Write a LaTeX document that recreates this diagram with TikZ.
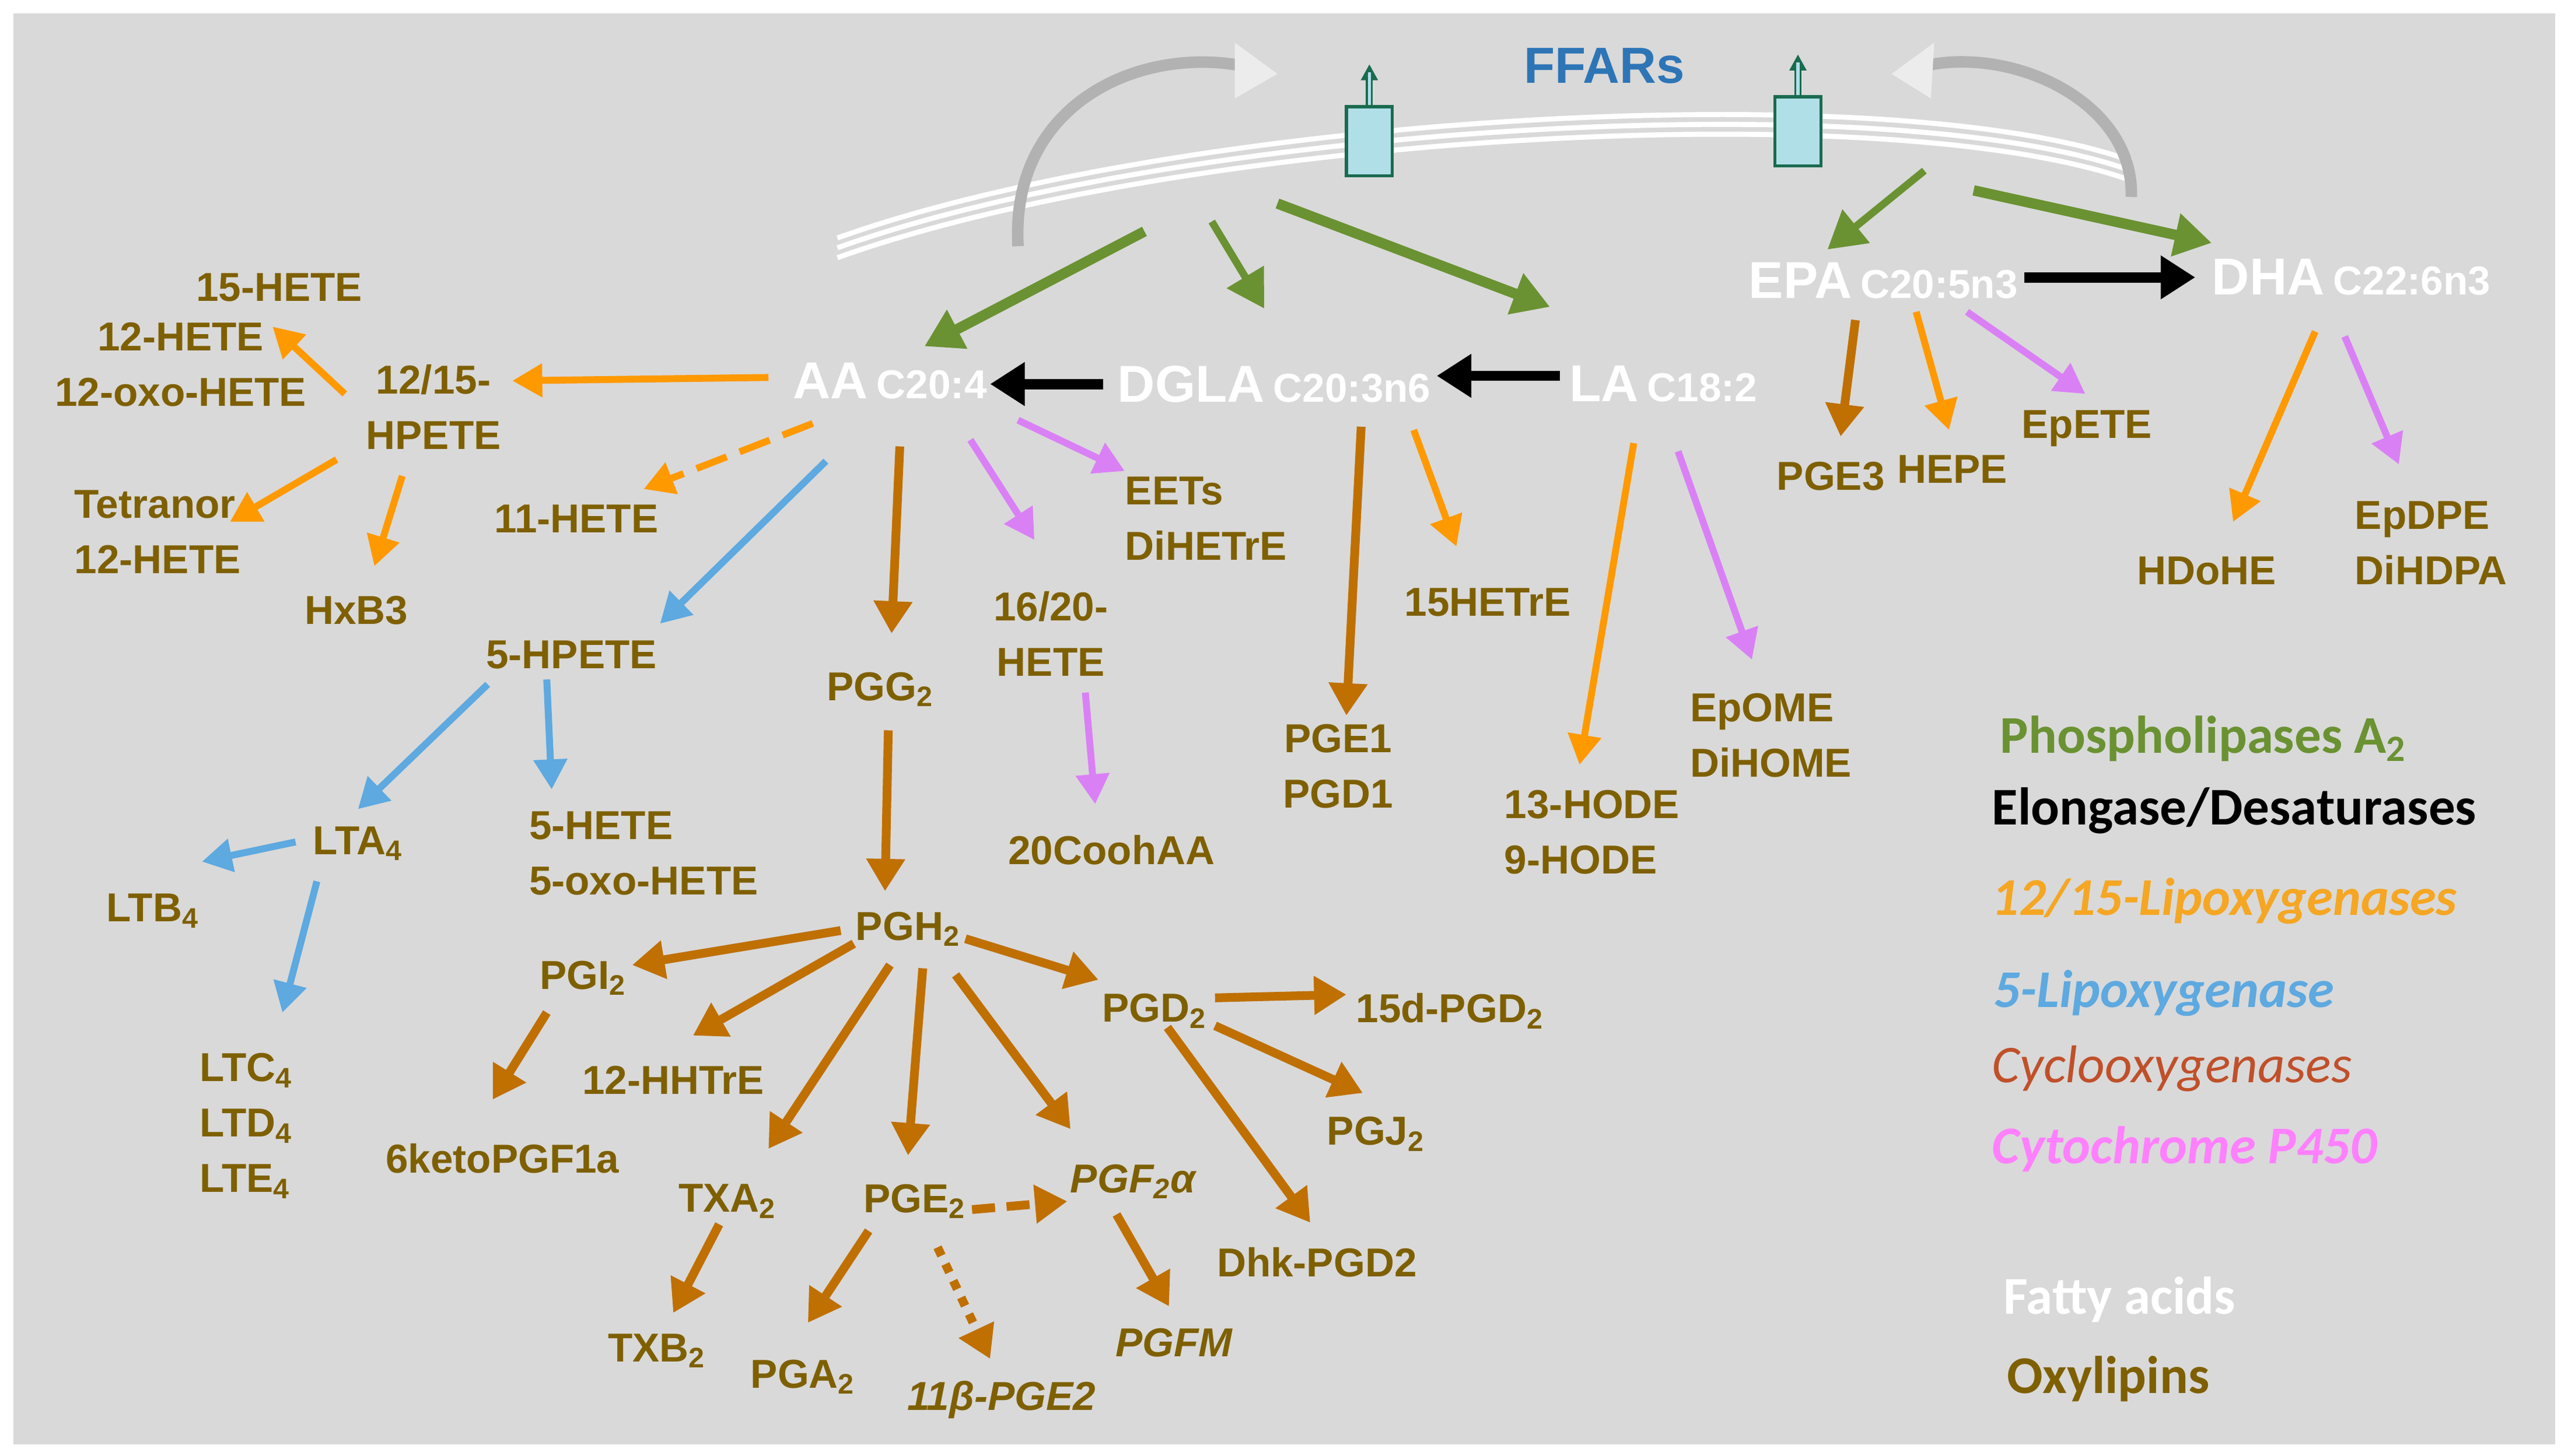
\documentclass[tikz,border=0pt]{standalone}
\usepackage{fontspec}
\setmainfont{Liberation Sans}
\newfontfamily\legfont{Carlito}
\usetikzlibrary{arrows.meta}
\definecolor{bg}{HTML}{D9D9D9}
\definecolor{oxy}{HTML}{7F6000}
\definecolor{pla}{HTML}{6A9232}
\definecolor{lox}{HTML}{FF9900}
\definecolor{fivelox}{HTML}{5DA9E0}
\definecolor{cox}{HTML}{BF7000}
\definecolor{cyp}{HTML}{DA80F5}
\definecolor{recfill}{HTML}{B0DFE8}
\definecolor{recline}{HTML}{1A6B50}
\definecolor{ffar}{HTML}{2E75B6}
\definecolor{legcox}{HTML}{C0502A}
\definecolor{legcyp}{HTML}{FF80FF}
\definecolor{leglox}{HTML}{F5A623}
\tikzset{
  x=0.025cm,y=-0.025cm,
  ox/.style={text=oxy,font=\bfseries\fontsize{17.5}{24}\selectfont,inner sep=0pt},
  oxi/.style={ox,font=\bfseries\itshape\fontsize{17.5}{24}\selectfont},
  fa/.style={text=white,font=\bfseries\fontsize{22.5}{24}\selectfont,inner sep=0pt},
  leg/.style={anchor=west,inner sep=0pt,font=\legfont\bfseries\fontsize{23}{26}\selectfont},
  arr/.style={line width=3.8pt,-{Triangle[length=14pt,width=16pt]}},
  thin arr/.style={line width=3pt,-{Triangle[length=13pt,width=14pt]}},
  g/.style={arr,draw=pla,line width=4.5pt,-{Triangle[length=16pt,width=18pt]}},
  k/.style={arr,draw=black,line width=4.5pt,-{Triangle[length=15pt,width=18pt]}},
  o/.style={thin arr,draw=lox},
  b/.style={thin arr,draw=fivelox},
  c/.style={arr,draw=cox},
  v/.style={thin arr,draw=cyp},
}
\newcommand{\fa}[2]{#1\,{\fontsize{17.5}{20}\selectfont #2}}
\begin{document}
\begin{tikzpicture}
\useasboundingbox (0,0) rectangle (1564,887);
\fill[white] (0,0) rectangle (1564,887);
\fill[bg] (8,8) rectangle (1556,880);
% membrane
\foreach \d in {0,6,12}{
 \draw[white,line width=2.2pt] (510,145+\d) .. controls (720,70+\d) and (1150,45+\d) .. (1298,98+\d);}
% grey recycling arrows
\draw[gray!60,line width=5pt] (620,150) .. controls (615,60) and (700,25) .. (765,42);
\fill[gray!15] (778,45) -- (752,26) -- (752,60) -- cycle;
\draw[gray!60,line width=5pt] (1298,120) .. controls (1300,60) and (1220,25) .. (1165,42);
\fill[gray!15] (1152,45) -- (1178,26) -- (1176,60) -- cycle;
% receptors
\node[draw=recline,fill=recfill,line width=1.3pt,minimum width=0.7cm,minimum height=1.05cm,inner sep=0pt] (r1) at (834,86) {};
\node[draw=recline,fill=recfill,line width=1.3pt,minimum width=0.7cm,minimum height=1.05cm,inner sep=0pt] (r2) at (1095,80) {};
\draw[recline,line width=3pt,-{Triangle[open,length=7pt,width=7pt]}] (r1.north) -- ++(0,-25);
\draw[recfill,line width=1.4pt] (r1.north) -- ++(0,-20);
\draw[recline,line width=3pt,-{Triangle[open,length=7pt,width=7pt]}] (r2.north) -- ++(0,-25);
\draw[recfill,line width=1.4pt] (r2.north) -- ++(0,-20);
\node[text=ffar,font=\bfseries\fontsize{22}{24}\selectfont] (ffars) at (977,40) {FFARs};
% fatty acids
\node[fa] (aa) at (542,232) {\fa{AA}{C20:4}};
\node[fa] (dgla) at (776,234) {\fa{DGLA}{C20:3n6}};
\node[fa] (la) at (1013,234) {\fa{LA}{C18:2}};
\node[fa] (epa) at (1147,171) {\fa{EPA}{C20:5n3}};
\node[fa] (dha) at (1432,169) {\fa{DHA}{C22:6n3}};
% oxylipins
\node[ox] (h15) at (170,175) {15-HETE};
\node[ox,align=center] (h12) at (110,222) {12-HETE\\12-oxo-HETE};
\node[ox,align=center] (hp1215) at (264,248) {12/15-\\HPETE};
\node[ox,align=left] (tet) at (96,324) {Tetranor\\12-HETE};
\node[ox] (hxb3) at (217,372) {HxB3};
\node[ox] (h11) at (351,316) {11-HETE};
\node[ox] (hp5) at (348,399) {5-HPETE};
\node[ox] (lta4) at (218,514) {LTA\textsubscript{4}};
\node[ox] (ltb4) at (93,555) {LTB\textsubscript{4}};
\node[ox,align=left,anchor=west] (h5) at (322,520) {5-HETE\\5-oxo-HETE};
\node[ox,align=left] (ltc) at (150,686) {LTC\textsubscript{4}\\LTD\textsubscript{4}\\LTE\textsubscript{4}};
\node[ox] (pgg2) at (536,420) {PGG\textsubscript{2}};
\node[ox,align=center] (h1620) at (640,386) {16/20-\\HETE};
\node[ox,align=left,anchor=west] (eets) at (685,316) {EETs\\DiHETrE};
\node[ox] (cooh) at (677,518) {20CoohAA};
\node[ox] (pgh2) at (553,566) {PGH\textsubscript{2}};
\node[ox] (pgi2) at (355,596) {PGI\textsubscript{2}};
\node[ox] (hhtre) at (410,658) {12-HHTrE};
\node[ox] (keto) at (306,706) {6ketoPGF1a};
\node[ox] (txa2) at (443,732) {TXA\textsubscript{2}};
\node[ox] (txb2) at (400,823) {TXB\textsubscript{2}};
\node[ox] (pge2) at (557,732) {PGE\textsubscript{2}};
\node[ox] (pga2) at (489,839) {PGA\textsubscript{2}};
\node[oxi] (b11) at (610,853) {11β-PGE2};
\node[oxi] (pgf) at (690,720) {PGF\textsubscript{2}α};
\node[oxi] (pgfm) at (715,818) {PGFM};
\node[ox] (pgd2) at (703,616) {PGD\textsubscript{2}};
\node[ox] (d15) at (883,616) {15d-PGD\textsubscript{2}};
\node[ox] (pgj2) at (838,691) {PGJ\textsubscript{2}};
\node[ox] (dhk) at (802,769) {Dhk-PGD2};
\node[ox,align=center] (pge1) at (815,467) {PGE1\\PGD1};
\node[ox] (hetre) at (906,367) {15HETrE};
\node[ox,align=left,anchor=west] (hode) at (916,507) {13-HODE\\9-HODE};
\node[ox,align=left,anchor=west] (epome) at (1029,448) {EpOME\\DiHOME};
\node[ox] (pge3) at (1115,290) {PGE3};
\node[ox] (hepe) at (1189,286) {HEPE};
\node[ox] (epete) at (1271,261) {EpETE};
\node[ox] (hdohe) at (1344,348) {HDoHE};
\node[ox,align=left,anchor=west] (epdpe) at (1434,331) {EpDPE\\DiHDPA};
% legend
\node[leg,text=pla] (l1) at (1218,450) {Phospholipases A\textsubscript{2}};
\node[leg,text=black] (l2) at (1213,494) {Elongase/Desaturases};
\node[leg,text=leglox,font=\legfont\bfseries\itshape\fontsize{23}{26}\selectfont] (l3) at (1213,549) {12/15-Lipoxygenases};
\node[leg,text=fivelox,font=\legfont\bfseries\itshape\fontsize{23}{26}\selectfont] (l4) at (1214,605) {5-Lipoxygenase};
\node[leg,text=legcox,font=\legfont\itshape\fontsize{23}{26}\selectfont] (l5) at (1213,651) {Cyclooxygenases};
\node[leg,text=legcyp,font=\legfont\bfseries\itshape\fontsize{23}{26}\selectfont] (l6) at (1213,700) {Cytochrome P450};
\node[leg,text=white] (l7) at (1220,792) {Fatty acids};
\node[leg,text=oxy] (l8) at (1222,840) {Oxylipins};
% green
\draw[g] (697,141) -- (563,211);
\draw[g,line width=3.2pt] (738,135) -- (770,188);
\draw[g] (778,124) -- (944,187);
\draw[g,line width=3.2pt] (1172,104) -- (1113,152);
\draw[g] (1202,116) -- (1347,148);
% black
\draw[k] (950,229) -- (875,229);
\draw[k] (672,234) -- (603,234);
\draw[k] (1233,169) -- (1337,169);
% orange
\draw[o] (468,230) -- (312,232);
\draw[o] (210,240) -- (166,199);
\draw[o] (205,280) -- (140,318);
\draw[o] (245,290) -- (228,345);
\draw[o,dash pattern=on 14pt off 6pt] (495,258) -- (392,298);
\draw[o] (861,262) -- (887,333);
\draw[o] (995,270) -- (962,466);
\draw[o] (1167,190) -- (1187,262);
\draw[o] (1410,202) -- (1360,318);
% blue
\draw[b] (503,281) -- (402,380);
\draw[b] (297,417) -- (218,493);
\draw[b] (333,414) -- (336,481);
\draw[b] (180,513) -- (123,525);
\draw[b] (193,537) -- (172,617);
% violet
\draw[v] (620,256) -- (685,287);
\draw[v] (591,268) -- (630,329);
\draw[v] (661,422) -- (667,490);
\draw[v] (1022,275) -- (1067,402);
\draw[v] (1198,190) -- (1270,240);
\draw[v] (1428,205) -- (1461,283);
% cox
\draw[c] (548,272) -- (543,386);
\draw[c] (541,445) -- (539,543);
\draw[c] (512,567) -- (385,588);
\draw[c] (520,575) -- (422,631);
\draw[c] (542,588) -- (468,700);
\draw[c] (562,590) -- (553,704);
\draw[c] (582,594) -- (652,688);
\draw[c] (588,572) -- (669,597);
\draw[c] (333,617) -- (300,670);
\draw[c] (740,608) -- (820,606);
\draw[c] (740,625) -- (830,666);
\draw[c] (711,626) -- (798,745);
\draw[c,dash pattern=on 10pt off 5pt] (592,737) -- (650,732);
\draw[c,dash pattern=on 4pt off 4pt] (571,760) -- (603,828);
\draw[c] (529,750) -- (492,806);
\draw[c] (438,746) -- (410,800);
\draw[c] (680,740) -- (712,796);
\draw[c] (829,260) -- (820,436);
\draw[c] (1130,195) -- (1121,266);
\end{tikzpicture}
\end{document}
